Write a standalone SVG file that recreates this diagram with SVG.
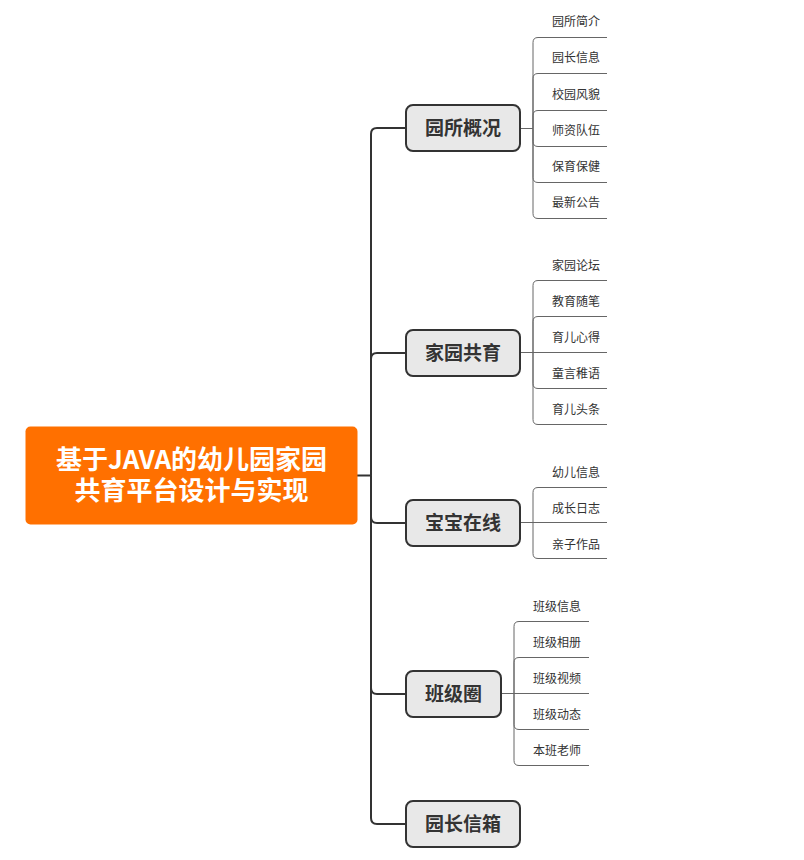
<svg xmlns="http://www.w3.org/2000/svg" width="804" height="860" viewBox="0 0 804 860">
<style>
text{font-family:"Noto Sans CJK SC","Noto Sans",sans-serif}
.root{fill:#FF7000}
.rt{fill:#fff;font-size:26px;font-weight:700;text-anchor:middle}
.box{fill:#E8E8E8;stroke:#333;stroke-width:2}
.mt{fill:#333;font-size:19px;font-weight:700;text-anchor:middle}
.trunk{fill:none;stroke:#333;stroke-width:2}
.sub{fill:none;stroke:#666;stroke-width:1}
.st{fill:#333;font-size:12px;text-anchor:middle}
</style>
<rect width="804" height="860" fill="#fff"/>
<g id="connectors">
<path class="trunk" d="M357,475.5H371"/>
<path class="trunk" d="M371,475.5V134Q371,128 377,128H406"/>
<path class="trunk" d="M371,475.5V359Q371,353 377,353H406"/>
<path class="trunk" d="M371,475.5V517Q371,523 377,523H406"/>
<path class="trunk" d="M371,475.5V688Q371,694 377,694H406"/>
<path class="trunk" d="M371,475.5V818Q371,824 377,824H406"/>
<path class="sub" d="M520,128.5H533"/>
<path class="sub" d="M533,128.5V42.5Q533,37.5 538,37.5H607"/>
<path class="sub" d="M533,128.5V78.5Q533,73.5 538,73.5H607"/>
<path class="sub" d="M533,128.5V115.5Q533,110.5 538,110.5H607"/>
<path class="sub" d="M533,128.5V141.5Q533,146.5 538,146.5H607"/>
<path class="sub" d="M533,128.5V177.5Q533,182.5 538,182.5H607"/>
<path class="sub" d="M533,128.5V213.5Q533,218.5 538,218.5H607"/>
<path class="sub" d="M520,352.5H607"/>
<path class="sub" d="M533,352.5V285.5Q533,280.5 538,280.5H607"/>
<path class="sub" d="M533,352.5V321.5Q533,316.5 538,316.5H607"/>
<path class="sub" d="M533,352.5V383.5Q533,388.5 538,388.5H607"/>
<path class="sub" d="M533,352.5V419.5Q533,424.5 538,424.5H607"/>
<path class="sub" d="M520,522.5H607"/>
<path class="sub" d="M533,522.5V492.5Q533,487.5 538,487.5H607"/>
<path class="sub" d="M533,522.5V553.5Q533,558.5 538,558.5H607"/>
<path class="sub" d="M501,693.5H589"/>
<path class="sub" d="M514,693.5V626.5Q514,621.5 519,621.5H589"/>
<path class="sub" d="M514,693.5V662.5Q514,657.5 519,657.5H589"/>
<path class="sub" d="M514,693.5V724.5Q514,729.5 519,729.5H589"/>
<path class="sub" d="M514,693.5V760.5Q514,765.5 519,765.5H589"/>
</g>
<g id="root">
<rect class="root" x="25.5" y="426.5" width="332" height="98" rx="5"/>
<text class="rt" x="191.5" y="469">基于JAVA的幼儿园家园</text>
<text class="rt" x="191.5" y="500">共育平台设计与实现</text>
</g>
<g id="n1">
<rect class="box" x="406" y="105" width="114" height="46" rx="7"/>
<text class="mt" x="463" y="135">园所概况</text>
</g>
<g id="n2">
<rect class="box" x="406" y="330" width="114" height="46" rx="7"/>
<text class="mt" x="463" y="360">家园共育</text>
</g>
<g id="n3">
<rect class="box" x="406" y="500" width="114" height="46" rx="7"/>
<text class="mt" x="463" y="530">宝宝在线</text>
</g>
<g id="n4">
<rect class="box" x="406" y="671" width="95" height="46" rx="7"/>
<text class="mt" x="453.5" y="701">班级圈</text>
</g>
<g id="n5">
<rect class="box" x="406" y="801" width="114" height="46" rx="7"/>
<text class="mt" x="463" y="831">园长信箱</text>
</g>
<g id="s1">
<text class="st" x="576" y="26">园所简介</text>
<text class="st" x="576" y="62">园长信息</text>
<text class="st" x="576" y="99">校园风貌</text>
<text class="st" x="576" y="135">师资队伍</text>
<text class="st" x="576" y="171">保育保健</text>
<text class="st" x="576" y="207">最新公告</text>
</g>
<g id="s2">
<text class="st" x="576" y="270">家园论坛</text>
<text class="st" x="576" y="305.5">教育随笔</text>
<text class="st" x="576" y="342">育儿心得</text>
<text class="st" x="576" y="378">童言稚语</text>
<text class="st" x="576" y="414">育儿头条</text>
</g>
<g id="s3">
<text class="st" x="576" y="477">幼儿信息</text>
<text class="st" x="576" y="512.5">成长日志</text>
<text class="st" x="576" y="548.5">亲子作品</text>
</g>
<g id="s4">
<text class="st" x="557" y="610.5">班级信息</text>
<text class="st" x="557" y="647">班级相册</text>
<text class="st" x="557" y="683">班级视频</text>
<text class="st" x="557" y="719">班级动态</text>
<text class="st" x="557" y="755">本班老师</text>
</g>
</svg>
